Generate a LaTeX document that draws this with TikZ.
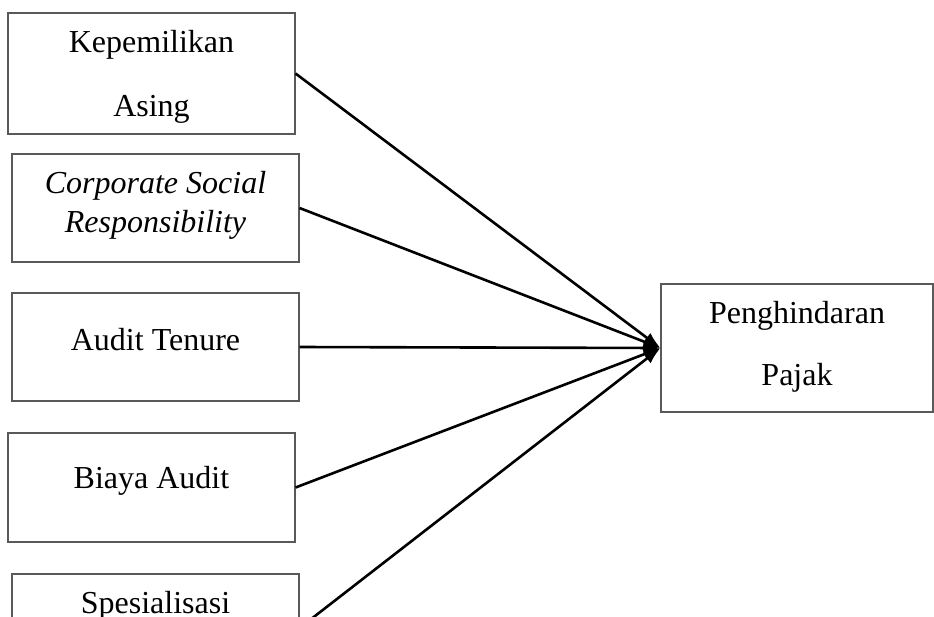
\documentclass[tikz,border=0pt]{standalone}
\usepackage{fontspec}
\setmainfont{Liberation Serif}
\usetikzlibrary{arrows.meta}
\begin{document}
\begin{tikzpicture}[x=1pt,y=-1pt,
  varbox/.style={draw=black!65, line width=1.1pt, rectangle, inner sep=0pt, minimum width=287pt},
  lbl/.style={anchor=base, inner sep=0pt, font=\fontsize{32}{32}\selectfont},
  link/.style={line width=2.6pt, -{Latex[length=17pt,width=12pt]}}]
\clip (0,0) rectangle (934,616);
\fill[white] (0,0) rectangle (934,616);
% boxes
\node[varbox, minimum height=121pt] (b1) at (151.5,73.5) {};
\node[varbox, minimum height=108pt] (b2) at (155.5,208) {};
\node[varbox, minimum height=108pt] (b3) at (155.5,347) {};
\node[varbox, minimum height=109pt] (b4) at (151.5,487.5) {};
\node[varbox, minimum height=108pt] (b5) at (155.5,628) {};
\node[varbox, minimum width=272pt, minimum height=128pt] (t) at (797,348) {};
% texts
\node[lbl] (k1) at (151.5,52) {Kepemilikan};
\node[lbl] (k2) at (151.5,116) {Asing};
\node[lbl] (c1) at (155.5,193) {\itshape Corporate Social};
\node[lbl] (c2) at (155.5,232) {\itshape Responsibility};
\node[lbl] (a1) at (155.5,350) {Audit Tenure};
\node[lbl] (a2) at (151.5,488) {Biaya Audit};
\node[lbl] (s1) at (155.5,613) {Spesialisasi};
\node[lbl] (p1) at (797,323) {Penghindaran};
\node[lbl] (p2) at (797,385) {Pajak};
% connectors
\draw[link] (b1.east) -- (t.west);
\draw[link] (b2.east) -- (t.west);
\draw[link] (b3.east) -- (t.west);
\draw[link] (b4.east) -- (t.west);
\draw[link] (b5.east) -- (t.west);
\end{tikzpicture}
\end{document}
